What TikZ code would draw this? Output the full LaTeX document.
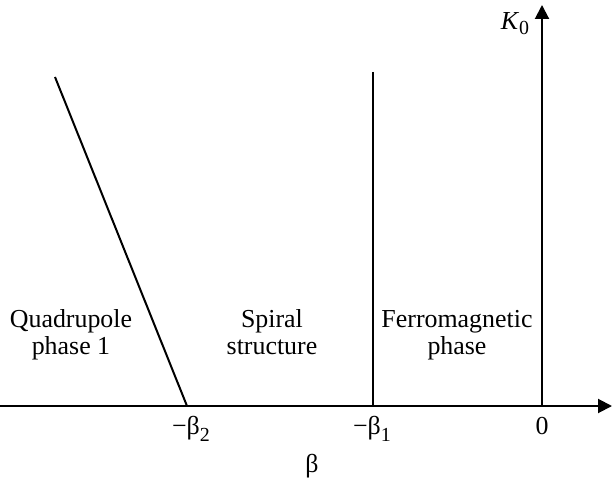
\documentclass[tikz,border=0pt]{standalone}
\usepackage{fontspec}
\setmainfont{Liberation Serif}
\usetikzlibrary{arrows.meta}
\newcommand{\sbs}[2][7bp]{\raisebox{-#1}{\fontsize{20}{22}\selectfont #2}}
\begin{document}
\begin{tikzpicture}[x=1bp,y=-1bp,
  axis/.style={line width=2bp,-{Triangle[length=14bp,width=14bp]}},
  bound/.style={line width=2bp},
  lbl/.style={font=\fontsize{26}{27}\selectfont,inner sep=0pt,align=center,anchor=base},
  tick/.style={font=\fontsize{26}{27}\selectfont,inner sep=0pt,anchor=base}]
\useasboundingbox (0,0) rectangle (613,483);
\coordinate (xs) at (0,406);
\coordinate (xe) at (612,406);
\coordinate (o) at (542,406);
\coordinate (ye) at (542,5);
\coordinate (b2) at (187,406);
\coordinate (b1) at (373,406);
\coordinate (d2) at (55,77);
\coordinate (d1) at (373,72);
\draw[axis] (xs) -- (xe);
\draw[axis] (o) -- (ye);
\draw[bound] (d2) -- (b2);
\draw[bound] (d1) -- (b1);
\node[tick] (K) at (515,30) {\textit{K}\sbs[5bp]{0}};
\node[tick] (lb2) at (191,434) {−β\sbs{2}};
\node[tick] (lb1) at (372,434) {−β\sbs{1}};
\node[tick] (l0) at (542,434) {0};
\node[tick] (lb) at (312,472) {β};
\node[lbl] (q) at (71,354) {Quadrupole\\phase 1};
\node[lbl] (s) at (272,354) {Spiral\\structure};
\node[lbl] (f) at (457,354) {Ferromagnetic\\phase};
\end{tikzpicture}
\end{document}
